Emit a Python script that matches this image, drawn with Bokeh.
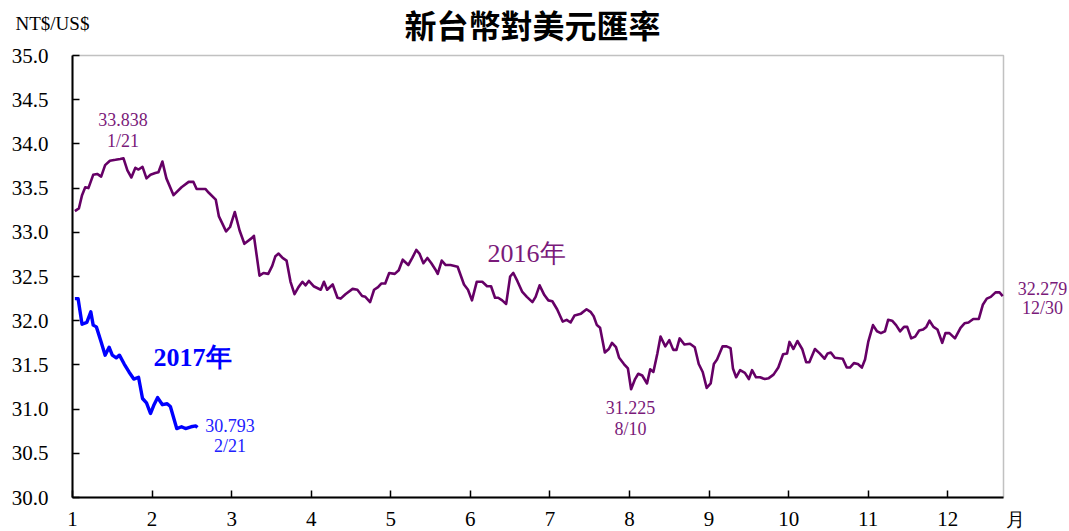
from bokeh.plotting import figure
from bokeh.models import Range1d, FixedTicker, NumeralTickFormatter, Label, BoxAnnotation
from bokeh.embed import file_html
from bokeh.resources import INLINE

# ---- data (x in month units: 1 = start of January) ----
x2016 = [1.03, 1.08, 1.12, 1.16, 1.20, 1.26, 1.31, 1.36, 1.41, 1.47, 1.54, 1.60, 1.64, 1.69, 1.74,
         1.79, 1.83, 1.88, 1.93, 1.98, 2.04, 2.08, 2.13, 2.18, 2.27, 2.37, 2.46, 2.52, 2.56, 2.67,
         2.71, 2.80, 2.84, 2.93, 2.98, 3.04, 3.10, 3.16, 3.26, 3.28, 3.35, 3.40, 3.46, 3.51, 3.55,
         3.59, 3.64, 3.69, 3.74, 3.79, 3.84, 3.89, 3.93, 3.97, 4.03, 4.12, 4.16, 4.20, 4.27, 4.33,
         4.37, 4.43, 4.52, 4.58, 4.64, 4.68, 4.74, 4.79, 4.84, 4.88, 4.93, 4.98, 5.05, 5.10, 5.15,
         5.22, 5.27, 5.32, 5.36, 5.41, 5.46, 5.51, 5.56, 5.59, 5.64, 5.69, 5.75, 5.84, 5.92, 5.97,
         6.02, 6.08, 6.15, 6.21, 6.26, 6.31, 6.35, 6.40, 6.45, 6.50, 6.54, 6.59, 6.65, 6.71, 6.78,
         6.82, 6.87, 6.93, 6.98, 7.03, 7.09, 7.16, 7.21, 7.26, 7.31, 7.39, 7.46, 7.51, 7.55, 7.59,
         7.63, 7.69, 7.74, 7.78, 7.83, 7.87, 7.93, 7.98, 8.02, 8.07, 8.11, 8.16, 8.22, 8.26, 8.30,
         8.35, 8.39, 8.45, 8.50, 8.55, 8.59, 8.63, 8.69, 8.76, 8.82, 8.87, 8.92, 8.97, 9.02, 9.06,
         9.10, 9.17, 9.22, 9.27, 9.30, 9.34, 9.39, 9.45, 9.50, 9.54, 9.59, 9.64, 9.70, 9.75, 9.81,
         9.87, 9.93, 9.98, 10.01, 10.06, 10.11, 10.17, 10.22, 10.26, 10.33, 10.39, 10.45, 10.49, 10.53, 10.58,
         10.68, 10.73, 10.77, 10.82, 10.87, 10.92, 10.96, 11.00, 11.06, 11.11, 11.16, 11.21, 11.25, 11.30, 11.35,
         11.40, 11.45, 11.49, 11.54, 11.59, 11.64, 11.69, 11.73, 11.77, 11.82, 11.87, 11.93, 11.97, 12.02, 12.09,
         12.16, 12.21, 12.26, 12.32, 12.39, 12.44, 12.49, 12.54, 12.60, 12.65, 12.69]
y2016 = [33.24, 33.27, 33.42, 33.51, 33.50, 33.65, 33.66, 33.63, 33.76, 33.81, 33.82, 33.83, 33.838, 33.70, 33.62,
         33.73, 33.71, 33.74, 33.61, 33.65, 33.67, 33.68, 33.80, 33.61, 33.42, 33.51, 33.57, 33.57, 33.49, 33.49,
         33.45, 33.37, 33.18, 33.01, 33.06, 33.23, 33.02, 32.87, 32.94, 32.96, 32.51, 32.54, 32.53, 32.62, 32.73,
         32.76, 32.71, 32.68, 32.44, 32.30, 32.38, 32.44, 32.40, 32.45, 32.39, 32.35, 32.44, 32.35, 32.41, 32.26,
         32.25, 32.30, 32.36, 32.35, 32.28, 32.27, 32.21, 32.35, 32.38, 32.42, 32.42, 32.54, 32.53, 32.57, 32.69,
         32.63, 32.71, 32.80, 32.76, 32.65, 32.71, 32.65, 32.58, 32.53, 32.68, 32.63, 32.63, 32.61, 32.41, 32.35,
         32.23, 32.44, 32.44, 32.39, 32.39, 32.26, 32.26, 32.23, 32.19, 32.50, 32.54, 32.45, 32.33, 32.27, 32.21,
         32.27, 32.40, 32.29, 32.23, 32.22, 32.13, 31.99, 32.01, 31.98, 32.06, 32.08, 32.13, 32.10, 32.05, 31.95,
         31.92, 31.64, 31.68, 31.75, 31.70, 31.58, 31.51, 31.46, 31.225, 31.34, 31.40, 31.38, 31.29, 31.45, 31.42,
         31.63, 31.82, 31.71, 31.78, 31.67, 31.67, 31.80, 31.73, 31.74, 31.70, 31.51, 31.42, 31.24, 31.29, 31.51,
         31.56, 31.71, 31.71, 31.69, 31.46, 31.36, 31.44, 31.41, 31.34, 31.44, 31.36, 31.36, 31.34, 31.35, 31.39,
         31.47, 31.62, 31.63, 31.76, 31.68, 31.77, 31.68, 31.53, 31.53, 31.68, 31.63, 31.57, 31.63, 31.64, 31.58,
         31.57, 31.47, 31.47, 31.52, 31.51, 31.47, 31.56, 31.76, 31.95, 31.88, 31.86, 31.88, 32.01, 32.00, 31.95,
         31.88, 31.93, 31.93, 31.80, 31.82, 31.89, 31.90, 31.93, 32.00, 31.93, 31.90, 31.75, 31.86, 31.86, 31.80,
         31.92, 31.97, 31.98, 32.02, 32.02, 32.18, 32.25, 32.27, 32.32, 32.32, 32.279]

x2017 = [1.03, 1.07, 1.12, 1.18, 1.23, 1.26, 1.30, 1.36, 1.41, 1.46, 1.50, 1.55, 1.59, 1.65, 1.71,
         1.77, 1.83, 1.88, 1.93, 1.98, 2.02, 2.07, 2.13, 2.19, 2.23, 2.31, 2.37, 2.42, 2.49, 2.55, 2.57]
y2017 = [32.25, 32.25, 31.96, 31.98, 32.10, 31.95, 31.93, 31.76, 31.61, 31.70, 31.61, 31.58, 31.61, 31.51, 31.42,
         31.34, 31.36, 31.12, 31.07, 30.95, 31.04, 31.13, 31.05, 31.06, 31.03, 30.78, 30.80, 30.78, 30.80, 30.81, 30.793]

month_ticks = [1, 2, 3, 4, 5, 6, 7, 8, 9, 10, 11, 12]
value_ticks = [30.0, 30.5, 31.0, 31.5, 32.0, 32.5, 33.0, 33.5, 34.0, 34.5, 35.0]
ann_values = ["33.838", "30.793", "31.225", "32.279"]
ann_dates = ["1/21", "2/21", "8/10", "12/30"]
series_names = ["2016年", "2017年"]
title_text = "新台幣對美元匯率"
unit_text = "NT$/US$"
month_unit = "月"

# ---- layout (pixels) ----
W, H = 1069, 531
BOX_L, BOX_R, BOX_T, BOX_B = 72, 1003, 55, 497
X0, X1 = 1.0, 12.70
Y0, Y1 = 30.0, 35.0
sx = (BOX_R - BOX_L) / (X1 - X0)
sy = (BOX_B - BOX_T) / (Y1 - Y0)

C16 = "#660066"
C16T = "#7a1a7a"
C17 = "#0000ff"
SERIF = "Liberation Serif"

# frame covers the whole canvas; axes are drawn at fixed data locations
p = figure(width=W, height=H, output_backend="svg", toolbar_location=None,
           x_range=Range1d(X0 - BOX_L / sx, X1 + (W - BOX_R) / sx),
           y_range=Range1d(Y0 - (H - BOX_B) / sy, Y1 + BOX_T / sy),
           min_border=0)
p.background_fill_color = "white"
p.border_fill_color = "white"
p.outline_line_color = None
p.xgrid.visible = False
p.ygrid.visible = False

p.add_layout(BoxAnnotation(left=X0, right=X1, bottom=Y0, top=Y1, fill_color=None,
                           line_color="#333333", line_width=1.5, level="underlay"))

p.line(x2016, y2016, line_color=C16, line_width=2.6, line_join="round")
p.line(x2017, y2017, line_color=C17, line_width=3.4, line_join="round")

for ax in (p.xaxis[0], p.yaxis[0]):
    ax.axis_line_color = "black"
    ax.axis_line_width = 2
    ax.major_tick_in = 7
    ax.major_tick_out = 0
    ax.minor_tick_in = 0
    ax.minor_tick_out = 0
    ax.major_tick_line_color = "black"
    ax.major_tick_line_width = 1.5
    ax.major_label_text_font = SERIF
    ax.major_label_text_font_size = "21px"
    ax.major_label_text_color = "black"

p.xaxis.fixed_location = Y0
p.xaxis.bounds = (X0, X1)
p.xaxis.ticker = FixedTicker(ticks=month_ticks)
p.xaxis.major_label_standoff = 14
p.yaxis.fixed_location = X0
p.yaxis.bounds = (Y0, Y1)
p.yaxis.ticker = FixedTicker(ticks=value_ticks)
p.yaxis.formatter = NumeralTickFormatter(format="0.0")
p.yaxis.major_label_standoff = 24


def px2x(px):
    return X0 + (px - BOX_L) / sx


def py2y(py):
    return Y1 - (py - BOX_T) / sy


def lab(px, py, text, color, size, align="center", style="normal", font=SERIF):
    p.add_layout(Label(x=px2x(px), y=py2y(py), text=text, text_color=color, text_font=font,
                       text_font_size=size, text_align=align, text_baseline="middle",
                       text_font_style=style))


# annotations of extremes / last values
lab(122.5, 119, ann_values[0], C16T, "18px")
lab(122.5, 140, ann_dates[0], C16T, "18px")
lab(229.5, 425, ann_values[1], "#2020ff", "18px")
lab(229.5, 445, ann_dates[1], "#2020ff", "18px")
lab(630, 407, ann_values[2], C16T, "18px")
lab(630, 428, ann_dates[2], C16T, "18px")
lab(1042, 288, ann_values[3], C16T, "18px")
lab(1042, 307, ann_dates[3], C16T, "18px")

lab(526, 253, series_names[0], C16T, "26px")
lab(192, 357, series_names[1], C17, "26px", style="bold")

lab(15, 23, unit_text, "black", "19px", align="left")
lab(1015, 519, month_unit, "black", "19px")
lab(532, 23, title_text, "black", "32px", style="bold", font="Noto Sans CJK TC")

open("out.html", "w").write(file_html(p, INLINE))
